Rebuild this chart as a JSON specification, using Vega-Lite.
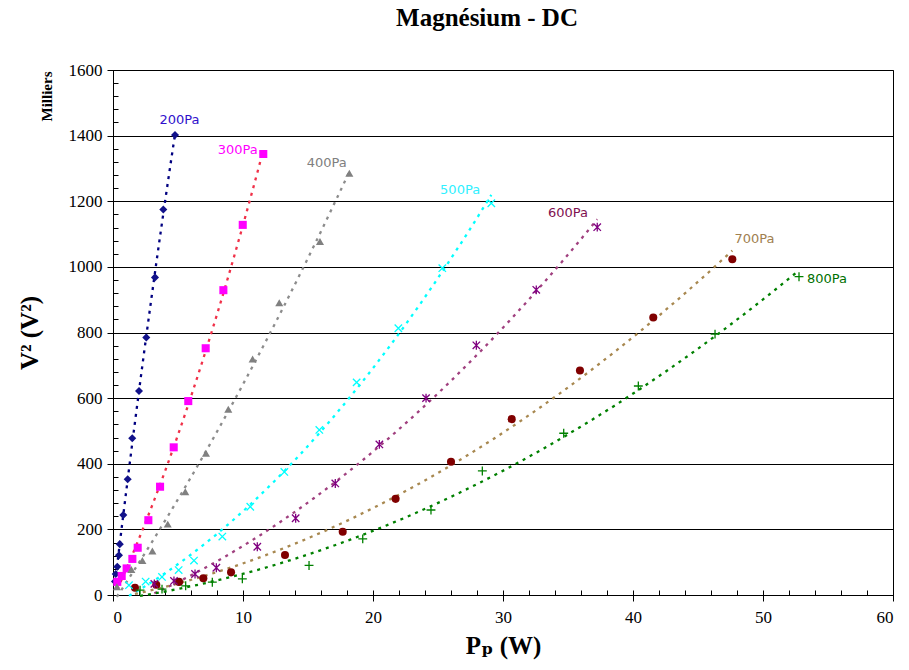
{
  "$schema": "https://vega.github.io/schema/vega-lite/v6.json",
  "width": 780,
  "height": 525,
  "autosize": "none",
  "padding": {"left": 113, "top": 70, "right": 16, "bottom": 75},
  "background": "white",
  "title": {"text": "Magnésium - DC", "font": "'Liberation Serif', 'Times New Roman', Times, 'DejaVu Serif', serif", "fontSize": 25, "fontWeight": "bold", "color": "black", "offset": 30, "dx": -16},
  "config": {
    "view": {"stroke": "black", "strokeWidth": 1},
    "axis": {"domainColor": "black", "tickColor": "black", "labelColor": "black", "titleColor": "black", "labelFont": "'Liberation Serif', 'Times New Roman', Times, 'DejaVu Serif', serif", "titleFont": "'Liberation Serif', 'Times New Roman', Times, 'DejaVu Serif', serif"}
  },
  "datasets": {
    "pts": [
      {"series": "200Pa", "P": 4.77, "V": 1402},
      {"series": "200Pa", "P": 3.87, "V": 1175},
      {"series": "200Pa", "P": 3.23, "V": 968},
      {"series": "200Pa", "P": 2.56, "V": 785},
      {"series": "200Pa", "P": 2.0, "V": 622},
      {"series": "200Pa", "P": 1.48, "V": 478},
      {"series": "200Pa", "P": 1.13, "V": 353},
      {"series": "200Pa", "P": 0.79, "V": 244},
      {"series": "200Pa", "P": 0.52, "V": 155},
      {"series": "200Pa", "P": 0.46, "V": 121},
      {"series": "200Pa", "P": 0.33, "V": 86},
      {"series": "200Pa", "P": 0.21, "V": 64},
      {"series": "200Pa", "P": 0.15, "V": 41},
      {"series": "300Pa", "P": 11.56, "V": 1344},
      {"series": "300Pa", "P": 9.98, "V": 1128},
      {"series": "300Pa", "P": 8.49, "V": 929},
      {"series": "300Pa", "P": 7.13, "V": 752},
      {"series": "300Pa", "P": 5.79, "V": 591},
      {"series": "300Pa", "P": 4.67, "V": 450},
      {"series": "300Pa", "P": 3.62, "V": 330},
      {"series": "300Pa", "P": 2.72, "V": 228},
      {"series": "300Pa", "P": 1.90, "V": 144},
      {"series": "300Pa", "P": 1.49, "V": 110},
      {"series": "300Pa", "P": 1.05, "V": 81},
      {"series": "300Pa", "P": 0.67, "V": 58},
      {"series": "300Pa", "P": 0.33, "V": 40},
      {"series": "400Pa", "P": 18.18, "V": 1285},
      {"series": "400Pa", "P": 15.92, "V": 1077},
      {"series": "400Pa", "P": 12.79, "V": 891},
      {"series": "400Pa", "P": 10.74, "V": 719},
      {"series": "400Pa", "P": 8.87, "V": 566},
      {"series": "400Pa", "P": 7.15, "V": 432},
      {"series": "400Pa", "P": 5.56, "V": 315},
      {"series": "400Pa", "P": 4.21, "V": 216},
      {"series": "400Pa", "P": 3.03, "V": 134},
      {"series": "400Pa", "P": 2.26, "V": 105},
      {"series": "400Pa", "P": 1.41, "V": 78},
      {"series": "400Pa", "P": 0.3, "V": 25},
      {"series": "500Pa", "P": 29.1, "V": 1194},
      {"series": "500Pa", "P": 25.33, "V": 996},
      {"series": "500Pa", "P": 21.95, "V": 813},
      {"series": "500Pa", "P": 18.74, "V": 648},
      {"series": "500Pa", "P": 15.87, "V": 503},
      {"series": "500Pa", "P": 13.18, "V": 375},
      {"series": "500Pa", "P": 10.56, "V": 269},
      {"series": "500Pa", "P": 8.41, "V": 178},
      {"series": "500Pa", "P": 6.23, "V": 105},
      {"series": "500Pa", "P": 5.05, "V": 76},
      {"series": "500Pa", "P": 3.77, "V": 55},
      {"series": "500Pa", "P": 2.51, "V": 41},
      {"series": "500Pa", "P": 1.23, "V": 30},
      {"series": "600Pa", "P": 37.25, "V": 1121},
      {"series": "600Pa", "P": 32.56, "V": 930},
      {"series": "600Pa", "P": 27.95, "V": 761},
      {"series": "600Pa", "P": 24.08, "V": 600},
      {"series": "600Pa", "P": 20.49, "V": 459},
      {"series": "600Pa", "P": 17.1, "V": 340},
      {"series": "600Pa", "P": 14.05, "V": 234},
      {"series": "600Pa", "P": 11.1, "V": 147},
      {"series": "600Pa", "P": 7.95, "V": 83},
      {"series": "600Pa", "P": 6.31, "V": 64},
      {"series": "600Pa", "P": 4.69, "V": 43},
      {"series": "600Pa", "P": 3.18, "V": 34},
      {"series": "700Pa", "P": 47.64, "V": 1023},
      {"series": "700Pa", "P": 41.56, "V": 846},
      {"series": "700Pa", "P": 35.92, "V": 684},
      {"series": "700Pa", "P": 30.67, "V": 536},
      {"series": "700Pa", "P": 26.0, "V": 406},
      {"series": "700Pa", "P": 21.74, "V": 293},
      {"series": "700Pa", "P": 17.67, "V": 193},
      {"series": "700Pa", "P": 13.23, "V": 122},
      {"series": "700Pa", "P": 9.08, "V": 69},
      {"series": "700Pa", "P": 6.95, "V": 51},
      {"series": "700Pa", "P": 5.08, "V": 40},
      {"series": "700Pa", "P": 3.33, "V": 31},
      {"series": "700Pa", "P": 1.69, "V": 22},
      {"series": "800Pa", "P": 52.77, "V": 970},
      {"series": "800Pa", "P": 46.31, "V": 795},
      {"series": "800Pa", "P": 40.41, "V": 637},
      {"series": "800Pa", "P": 34.67, "V": 493},
      {"series": "800Pa", "P": 28.41, "V": 378},
      {"series": "800Pa", "P": 24.46, "V": 259},
      {"series": "800Pa", "P": 19.21, "V": 171},
      {"series": "800Pa", "P": 15.08, "V": 90},
      {"series": "800Pa", "P": 9.95, "V": 49},
      {"series": "800Pa", "P": 7.64, "V": 39},
      {"series": "800Pa", "P": 5.59, "V": 28},
      {"series": "800Pa", "P": 3.77, "V": 18},
      {"series": "800Pa", "P": 2.08, "V": 15}
    ],
    "labels": [
      {"series": "200Pa", "P": 5.12, "V": 1448},
      {"series": "300Pa", "P": 9.6, "V": 1356},
      {"series": "400Pa", "P": 16.44, "V": 1317},
      {"series": "500Pa", "P": 26.7, "V": 1234},
      {"series": "600Pa", "P": 35.0, "V": 1163},
      {"series": "700Pa", "P": 49.35, "V": 1084},
      {"series": "800Pa", "P": 54.92, "V": 962}
    ]
  },
  "layer": [
    {
      "data": {"name": "pts"},
      "transform": [{"regression": "V", "on": "P", "groupby": ["series"], "method": "poly", "order": 2}],
      "mark": {"type": "line", "strokeDash": [3, 5], "strokeWidth": 2.3},
      "encoding": {
        "x": {"field": "P", "type": "quantitative", "scale": {"domain": [0, 60], "nice": false, "zero": false},
              "axis": {"orient": "bottom", "values": [0,2,4,6,8,10,12,14,16,18,20,22,24,26,28,30,32,34,36,38,40,42,44,46,48,50,52,54,56,58,60], "labels": false, "tickSize": -5, "domain": false, "grid": false, "title": null}},
        "y": {"field": "V", "type": "quantitative", "scale": {"domain": [0, 1600], "nice": false, "zero": false},
              "axis": {"orient": "left", "values": [0,40,80,120,160,200,240,280,320,360,400,440,480,520,560,600,640,680,720,760,800,840,880,920,960,1000,1040,1080,1120,1160,1200,1240,1280,1320,1360,1400,1440,1480,1520,1560,1600], "labels": false, "tickSize": -5, "domain": false, "grid": false, "title": null}},
        "stroke": {"field": "series", "type": "nominal", "legend": null,
                   "scale": {"domain": ["200Pa","300Pa","400Pa","500Pa","600Pa","700Pa","800Pa"], "range": ["#000080","#F03048","#8C8C8C","#00FFFF","#A0407F","#A88850","#008000"]}}
      }
    },
    {
      "data": {"name": "pts"},
      "transform": [{"filter": {"field": "series", "oneOf": ["200Pa","300Pa","400Pa","700Pa"]}}],
      "mark": {"type": "point", "filled": true, "size": 65, "opacity": 1},
      "encoding": {
        "x": {"field": "P", "type": "quantitative",
              "axis": {"orient": "bottom", "values": [0,10,20,30,40,50,60], "format": "d", "tickSize": 6, "labelFontSize": 17, "labelPadding": 8, "grid": false, "title": "Pₚ (W)", "titleFontSize": 25, "titleFontWeight": "bold", "titlePadding": 8}},
        "y": {"field": "V", "type": "quantitative",
              "axis": {"orient": "left", "values": [0,200,400,600,800,1000,1200,1400,1600], "format": "d", "tickSize": 6, "labelFontSize": 17, "labelPadding": 5, "grid": true, "gridColor": "black", "gridOpacity": 1, "gridWidth": 1, "title": "V² (V²)", "titleFontSize": 25, "titleFontWeight": "bold", "titlePadding": 26}},
        "color": {"field": "series", "type": "nominal", "legend": null,
                  "scale": {"domain": ["200Pa","300Pa","400Pa","500Pa","600Pa","700Pa","800Pa"], "range": ["#12128A","#FF00FF","#808080","#00FFFF","#800080","#800000","#008000"]}},
        "shape": {"field": "series", "type": "nominal", "legend": null,
                  "scale": {"domain": ["200Pa","300Pa","400Pa","500Pa","600Pa","700Pa","800Pa"], "range": ["diamond","square","triangle-up","M-1,-1L1,1M-1,1L1,-1","M-1,-1L1,1M-1,1L1,-1M0,-1.2L0,1.2","circle","M-1.2,0L1.2,0M0,-1.2L0,1.2"]}}
      }
    },
    {
      "data": {"name": "pts"},
      "transform": [{"filter": {"field": "series", "oneOf": ["500Pa","600Pa","800Pa"]}}],
      "mark": {"type": "point", "filled": false, "size": 55, "strokeWidth": 1.3, "opacity": 1},
      "encoding": {
        "x": {"field": "P", "type": "quantitative", "axis": null},
        "y": {"field": "V", "type": "quantitative", "axis": null},
        "color": {"field": "series", "type": "nominal", "legend": null},
        "shape": {"field": "series", "type": "nominal", "legend": null}
      }
    },
    {
      "data": {"name": "labels"},
      "mark": {"type": "text", "font": "DejaVu Sans", "fontSize": 13},
      "encoding": {
        "x": {"field": "P", "type": "quantitative", "axis": null},
        "y": {"field": "V", "type": "quantitative",
              "axis": {"orient": "left", "labels": false, "ticks": false, "domain": false, "grid": false, "title": "Milliers", "titleFontSize": 15, "titleFontWeight": "bold", "titleAngle": -90, "titleX": -62, "titleY": 1, "titleAlign": "right", "titleBaseline": "alphabetic"}},
        "text": {"field": "series"},
        "fill": {"field": "series", "type": "nominal", "legend": null,
                 "scale": {"domain": ["200Pa","300Pa","400Pa","500Pa","600Pa","700Pa","800Pa"], "range": ["#3010CC","#FF00FF","#808080","#30F0FF","#801050","#A08050","#007000"]}}
      }
    }
  ],
  "resolve": {"axis": {"x": "independent", "y": "independent"}}
}
